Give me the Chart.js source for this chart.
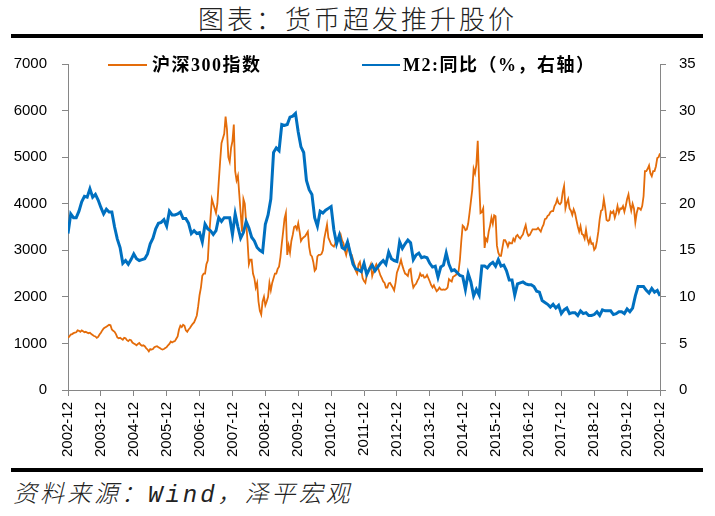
<!DOCTYPE html>
<html>
<head>
<meta charset="utf-8">
<script src="https://cdn.jsdelivr.net/npm/chart.js@4.4.0/dist/chart.umd.min.js"></script>
<style>
  body { margin: 0; width: 715px; height: 516px; background: #fff; position: relative; overflow: hidden; }
  #title { position: absolute; left: 0; top: 4px; width: 715px; text-align: center; font: 300 26px/28px "Noto Sans CJK SC", sans-serif; letter-spacing: 3px; color: #222; }
  .rule { position: absolute; left: 11px; width: 692px; height: 4px; background: #000; }
  #c { position: absolute; left: 0; top: 40px; }
  .legline { position: absolute; height: 2px; }
  .legtext { position: absolute; top: 55px; font: bold 18px/20px "Liberation Serif", "Noto Sans CJK SC", serif; letter-spacing: 1.5px; color: #000; white-space: nowrap; }
  #source { position: absolute; left: 13px; top: 483px; font: italic 300 24px/26px "Liberation Mono", "Noto Sans CJK SC", monospace; letter-spacing: 3px; color: #222; white-space: nowrap; }
</style>
</head>
<body>
<div id="title">图表：货币超发推升股价</div>
<div class="rule" style="top:34px"></div>
<canvas id="c" width="715" height="430"></canvas>
<div class="legline" style="left:108px;top:64px;width:39px;background:#E46C0A"></div>
<div class="legtext" style="left:152px">沪深300指数</div>
<div class="legline" style="left:362px;top:64px;width:38px;background:#0070C0"></div>
<div class="legtext" style="left:403px">M2:同比（%，右轴）</div>
<div class="rule" style="top:468px"></div>
<div id="source">资料来源：Wind，泽平宏观</div>
<script>
// x tick labels, one per year, 12 months apart
const xTickLabels = ['2002-12','2003-12','2004-12','2005-12','2006-12','2007-12','2008-12','2009-12','2010-12',
  '2011-12','2012-12','2013-12','2014-12','2015-12','2016-12','2017-12','2018-12','2019-12','2020-12'];

// 沪深300指数, twice a month from 2002-12 (first value) to 2020-12
const csiValues = [
  1120,
  1150,1190,1200,1220,1230,1240,1280,1270,1250,1280,1260,1240,1250,1230,1220,1230,1200,1180,1160,1150,1120,1140,1190,1230, // 2003
  1280,1320,1340,1360,1380,1400,1390,1300,1270,1250,1200,1130,1110,1120,1100,1080,1120,1110,1070,1050,1080,1070,1020,1000, // 2004
  980,960,990,1010,970,950,960,940,900,870,830,880,870,880,920,930,940,920,900,880,870,880,900,920,                       // 2005
  960,990,1040,1020,1040,1050,1100,1150,1300,1380,1350,1400,1380,1280,1250,1300,1330,1380,1420,1450,1520,1600,1800,2040, // 2006
  2200,2450,2500,2500,2700,2780,3300,3700,4100,4000,3900,3800,4000,4470,4900,5300,5400,5500,5870,5600,5000,4900,5200,5340, // 2007
  5700,4700,4500,4600,4200,3800,3400,4100,4000,3600,3200,2700,2800,2800,2500,2400,2200,2300,1900,1700,1620,1900,2000,1820, // 2008
  1900,2000,2300,2140,2300,2400,2500,2500,2600,2650,2850,3140,3400,3680,3800,2900,3100,2950,3200,3330,3500,3520,3450,3580, // 2009
  3400,3200,3250,3280,3300,3350,3400,3070,2900,2870,2750,2560,2600,2870,2900,2900,2920,3000,3250,3400,3550,3270,3200,3130, // 2010
  3100,3080,3150,3240,3250,3220,3330,3210,3150,3000,2900,3040,3100,2900,2900,2800,2700,2560,2500,2700,2750,2580,2400,2340, // 2011
  2300,2460,2550,2630,2700,2450,2550,2630,2700,2640,2550,2460,2400,2330,2300,2200,2200,2290,2300,2250,2200,2140,2300,2520, // 2012
  2600,2690,2790,2670,2580,2500,2480,2450,2580,2600,2350,2200,2250,2280,2350,2400,2500,2450,2470,2410,2420,2470,2400,2330, // 2013
  2250,2200,2250,2180,2120,2150,2200,2160,2150,2160,2150,2170,2200,2380,2350,2330,2430,2450,2470,2510,2550,2800,3200,3530, // 2014
  3500,3430,3450,3570,3800,4050,4300,4750,4650,4840,5350,4470,3800,3820,3900,3050,3250,3200,3400,3530,3700,3570,3750,3730, // 2015
  3100,2950,2880,2880,3050,3220,3220,3160,3080,3170,3150,3150,3250,3200,3300,3330,3280,3250,3300,3340,3450,3540,3380,3310, // 2016
  3330,3390,3450,3450,3450,3450,3480,3440,3400,3490,3550,3670,3680,3740,3760,3820,3840,3840,3950,4000,4100,4010,3990,4030, // 2017
  4250,4380,3900,4020,4100,3900,3850,3760,3880,3800,3650,3510,3400,3520,3350,3330,3250,3440,3250,3150,3250,3140,3150,3010, // 2018
  3050,3200,3400,3670,3850,3870,4100,3910,3650,3630,3650,3830,3800,3840,3700,3800,3950,3810,3900,3890,3950,3830,3950,4100, // 2019
  4200,3990,3850,4000,3900,3600,3800,3910,3900,3870,3950,4160,4700,4700,4750,4820,4650,4590,4700,4700,4800,4980,5000,5080  // 2020
];

// M2 同比 (%), monthly from 2002-12 to 2020-12
const m2Values = [
  16.8,
  18.9,18.5,18.5,19.2,20.2,20.8,20.7,21.6,20.7,21.0,20.4,19.6, // 2003
  18.9,19.4,19.1,19.1,17.5,16.2,15.3,13.6,13.9,13.5,14.0,14.6, // 2004
  14.1,13.9,14.0,14.1,14.6,15.7,16.3,17.3,17.9,18.0,18.3,17.6, // 2005
  19.2,18.8,18.8,18.9,19.1,18.4,18.4,17.9,16.8,17.1,16.8,16.9, // 2006
  15.9,17.8,17.3,17.1,16.7,17.1,18.5,18.1,18.5,18.5,18.5,16.7, // 2007
  18.9,17.5,16.3,16.9,18.1,17.4,16.4,16.0,15.3,15.0,14.8,17.8, // 2008
  18.8,20.5,25.5,26.0,25.7,28.5,28.4,28.5,29.3,29.4,29.7,27.7, // 2009
  26.1,25.5,22.5,21.5,21.0,18.5,17.6,19.2,19.0,19.3,19.5,19.7, // 2010
  17.2,15.7,16.6,15.3,15.1,15.9,14.7,13.5,13.0,12.9,12.7,13.6, // 2011
  12.4,13.0,13.4,12.8,13.2,13.6,13.9,13.5,14.8,14.1,13.9,13.8, // 2012
  15.9,15.2,15.7,16.1,15.8,14.0,14.5,14.7,14.2,14.3,14.2,13.6, // 2013
  13.2,13.3,12.1,13.2,13.4,14.7,13.5,12.8,12.9,12.6,12.3,12.2, // 2014
  10.8,12.5,11.6,10.1,10.8,10.2,13.3,13.3,13.1,13.5,13.7,13.3, // 2015
  14.0,13.3,13.4,12.8,11.8,11.8,10.2,11.4,11.5,11.6,11.4,11.3, // 2016
  11.3,11.1,10.6,10.5,9.6,9.4,9.2,8.9,9.2,8.8,9.1,8.2,         // 2017
  8.6,8.8,8.2,8.3,8.3,8.0,8.5,8.2,8.3,8.0,8.0,8.1,             // 2018
  8.4,8.0,8.6,8.5,8.5,8.5,8.1,8.2,8.4,8.4,8.2,8.7,             // 2019
  8.4,8.8,10.1,11.1,11.1,11.1,10.7,10.4,10.9,10.5,10.7,10.1    // 2020
];

const leftTicks = { min: 0, max: 7000, step: 1000 };
const rightTicks = { min: 0, max: 35, step: 5 };

// x is months since 2002-12
const csiPoints = csiValues.map((v, i) => ({ x: i * 0.5, y: v }));
const m2Points = m2Values.map((v, i) => ({ x: i, y: v }));

const axisColor = '#868686';
const tickFont = { family: '"Liberation Sans", Arial, sans-serif', size: 15 };

new Chart(document.getElementById('c'), {
  type: 'line',
  data: {
    datasets: [
      { label: '沪深300指数', data: csiPoints, yAxisID: 'y', borderColor: '#E46C0A', borderWidth: 1.8, pointRadius: 0, order: 1 },
      { label: 'M2:同比（%，右轴）', data: m2Points, yAxisID: 'y1', borderColor: '#0070C0', borderWidth: 3, pointRadius: 0, order: 0 }
    ]
  },
  options: {
    responsive: false,
    animation: false,
    devicePixelRatio: 1,
    layout: { padding: { top: 23, left: 0, right: 0, bottom: 0 } },
    plugins: { legend: { display: false }, tooltip: { enabled: false } },
    scales: {
      x: {
        type: 'linear',
        min: 0,
        max: (xTickLabels.length - 1) * 12,
        afterBuildTicks: (scale) => { scale.ticks = xTickLabels.map((_, i) => ({ value: i * 12 })); },
        afterFit: (scale) => { scale.height = 80; },
        grid: { drawOnChartArea: false, drawTicks: true, tickLength: 6, color: axisColor },
        border: { color: axisColor },
        ticks: {
          autoSkip: false, minRotation: 90, maxRotation: 90, padding: 6,
          color: '#000', font: tickFont,
          callback: (v, i) => xTickLabels[i]
        }
      },
      y: {
        position: 'left',
        min: leftTicks.min, max: leftTicks.max,
        afterFit: (scale) => { scale.width = 68; },
        grid: { drawOnChartArea: false, drawTicks: true, tickLength: 6, color: axisColor },
        border: { color: axisColor },
        ticks: { stepSize: leftTicks.step, padding: 15, color: '#000', font: tickFont, callback: (v) => String(v) }
      },
      y1: {
        position: 'right',
        min: rightTicks.min, max: rightTicks.max,
        afterFit: (scale) => { scale.width = 55; },
        grid: { drawOnChartArea: false, drawTicks: true, tickLength: 6, color: axisColor },
        border: { color: axisColor },
        ticks: { stepSize: rightTicks.step, padding: 13, color: '#000', font: tickFont, callback: (v) => String(v) }
      }
    }
  }
});
</script>
</body>
</html>
